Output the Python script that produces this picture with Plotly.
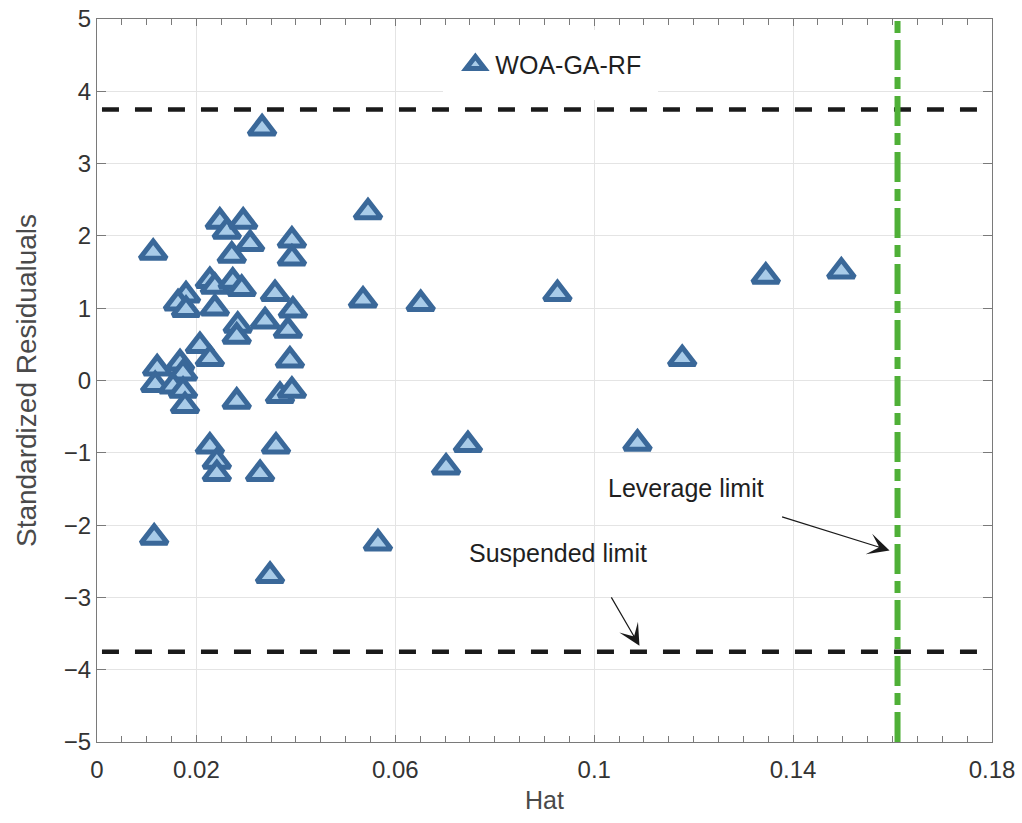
import plotly.graph_objects as go

# ---- data ----
series_name = "WOA-GA-RF"
hat = [0.0113, 0.0115, 0.0121, 0.0117, 0.0179, 0.0163, 0.0179, 0.0167, 0.0173, 0.0153,
       0.0173, 0.0177, 0.0207, 0.0227, 0.0247, 0.0261, 0.0294, 0.0308, 0.0271, 0.0392,
       0.0392, 0.0227, 0.0237, 0.0273, 0.0291, 0.0358, 0.0237, 0.0394, 0.0283, 0.0281,
       0.0338, 0.0384, 0.0388, 0.0281, 0.0368, 0.0392, 0.0227, 0.0241, 0.0241, 0.0360,
       0.0328, 0.0348, 0.0332, 0.0545, 0.0535, 0.0651, 0.0926, 0.1345, 0.1497, 0.1177,
       0.1087, 0.0746, 0.0702, 0.0565]
std_res = [1.77, -2.17, 0.17, -0.06, 1.18, 1.07, 0.98, 0.24, 0.10, -0.08,
           -0.14, -0.35, 0.48, 0.30, 2.20, 2.06, 2.20, 1.89, 1.73, 1.94,
           1.69, 1.38, 1.30, 1.37, 1.27, 1.20, 1.00, 0.97, 0.76, 0.61,
           0.82, 0.69, 0.28, -0.29, -0.21, -0.14, -0.91, -1.12, -1.29, -0.91,
           -1.29, -2.70, 3.49, 2.33, 1.11, 1.06, 1.20, 1.44, 1.51, 0.30,
           -0.87, -0.89, -1.20, -2.25]
suspended_limit = 3.75
leverage_limit = 0.161
x_range = [0, 0.18]
y_range = [-5, 5]
x_tickvals = [0, 0.02, 0.06, 0.1, 0.14, 0.18]
x_ticktext = ["0", "0.02", "0.06", "0.1", "0.14", "0.18"]
y_tickvals = [-5, -4, -3, -2, -1, 0, 1, 2, 3, 4, 5]

FONT = "Liberation Sans, Arial, sans-serif"
TXT = "#1f1f1f"
AX = "#7a7a7a"
GRID = "#e4e4e4"

fig = go.Figure()
fig.add_trace(go.Scatter(
    x=hat, y=std_res, mode="markers", name=series_name,
    marker=dict(symbol="triangle-up", size=23, color="#a8cbe8",
                line=dict(color="#3a6899", width=5)),
))

# limit lines
fig.add_shape(type="line", xref="x", yref="y", x0=0.001, x1=x_range[1],
              y0=suspended_limit, y1=suspended_limit,
              line=dict(color="#1a1a1a", width=4.5, dash="17px,16px"))
fig.add_shape(type="line", xref="x", yref="y", x0=0.001, x1=x_range[1],
              y0=-suspended_limit, y1=-suspended_limit,
              line=dict(color="#1a1a1a", width=4.5, dash="17px,16px"))
fig.add_shape(type="line", xref="x", yref="y", x0=leverage_limit, x1=leverage_limit,
              y0=y_range[0], y1=y_range[1],
              line=dict(color="#4fb037", width=6, dash="30px,7px,12px,7px"))

# annotations
fig.add_annotation(x=0.1184, y=-1.48, text="Leverage limit", showarrow=False,
                   font=dict(family=FONT, size=25, color=TXT))
fig.add_annotation(x=0.0927, y=-2.39, text="Suspended limit", showarrow=False,
                   font=dict(family=FONT, size=25, color=TXT))
fig.add_annotation(x=0.1594, y=-2.35, ax=-109, ay=-34, text="", showarrow=True,
                   arrowhead=3, arrowsize=3, arrowwidth=1.2, arrowcolor="#1a1a1a")
fig.add_annotation(x=0.1091, y=-3.67, ax=-29, ay=-50, text="", showarrow=True,
                   arrowhead=3, arrowsize=3, arrowwidth=1.2, arrowcolor="#1a1a1a")

fig.update_layout(
    width=1022, height=823,
    margin=dict(l=97, r=30, t=19, b=81, autoexpand=False),
    paper_bgcolor="white", plot_bgcolor="white",
    font=dict(family=FONT, color=TXT),
    showlegend=True,
    legend=dict(x=0.387, y=0.985, xanchor="left", yanchor="top",
                bgcolor="white", bordercolor="white", borderwidth=12,
                font=dict(family=FONT, size=25, color=TXT)),
    xaxis=dict(range=x_range, tickmode="array", tickvals=x_tickvals, ticktext=x_ticktext,
               showgrid=True, gridcolor=GRID, gridwidth=1, zeroline=False,
               showline=True, linecolor=AX, linewidth=1.2, mirror="ticks",
               ticks="inside", ticklen=7, tickcolor=AX,
               minor=dict(tickmode="linear", tick0=0, dtick=0.005, ticks="inside",
                          ticklen=6, tickcolor=AX, showgrid=False),
               tickfont=dict(family=FONT, size=24, color="#333333"),
               ticklabelstandoff=6,
               title=dict(text="Hat", font=dict(family=FONT, size=25, color="#4a4a4a"),
                          standoff=9)),
    yaxis=dict(range=y_range, tickmode="array", tickvals=y_tickvals,
               showgrid=True, gridcolor=GRID, gridwidth=1, zeroline=False,
               showline=True, linecolor=AX, linewidth=1.2, mirror="ticks",
               ticks="inside", ticklen=9, tickcolor=AX,
               tickfont=dict(family=FONT, size=24, color="#333333"),
               title=dict(text="Standardized Residualuals",
                          font=dict(family=FONT, size=28, color="#4a4a4a"),
                          standoff=18)),
)

fig.write_html("out.html")
